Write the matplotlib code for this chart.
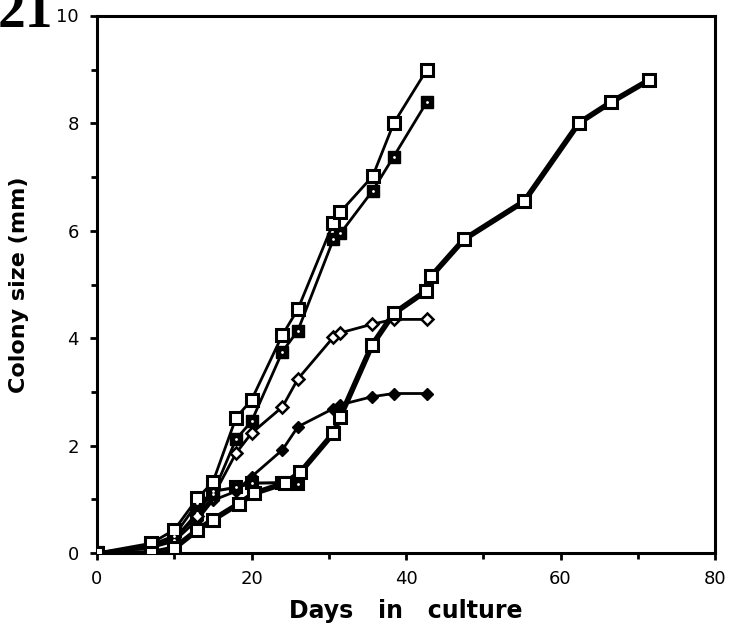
import matplotlib
matplotlib.use("Agg")
import matplotlib.pyplot as plt
from matplotlib.ticker import MultipleLocator

# Series A: open squares, thin line (fastest)
days_a = [0, 7, 10, 13, 15, 18, 20, 24, 26, 30.6, 31.5, 35.7, 38.4, 42.7]
size_a = [0, 0.18, 0.43, 1.02, 1.32, 2.52, 2.85, 4.06, 4.54, 6.15, 6.35, 7.02, 8.0, 9.0]

# Series B: filled squares, thin line
days_b = [0, 7, 10, 13, 15, 18, 20, 24, 26, 30.6, 31.5, 35.7, 38.4, 42.7]
size_b = [0, 0.15, 0.32, 0.93, 1.1, 2.12, 2.45, 3.75, 4.14, 5.84, 5.95, 6.75, 7.38, 8.4]

# Series C: open diamonds
days_c = [0, 7, 10, 13, 15, 18, 20, 24, 26, 30.6, 31.5, 35.6, 38.4, 42.7]
size_c = [0, 0.1, 0.3, 0.68, 1.05, 1.86, 2.23, 2.72, 3.24, 4.02, 4.1, 4.26, 4.35, 4.35]

# Series D: filled diamonds
days_d = [0, 7, 10, 13, 15, 18, 20, 24, 26, 30.6, 31.5, 35.6, 38.4, 42.7]
size_d = [0, 0.1, 0.22, 0.62, 0.98, 1.15, 1.42, 1.92, 2.35, 2.69, 2.76, 2.91, 2.97, 2.97]

# Series F: filled squares, short plateau
days_f = [0, 7, 10, 13, 15, 18, 20, 24, 26]
size_f = [0, 0.12, 0.25, 0.75, 1.15, 1.22, 1.3, 1.31, 1.28]

# Series E: open squares, thick line (long culture)
days_e = [0, 7, 10, 13, 15, 18.4, 20.3, 24.3, 26.3, 30.6, 31.5, 35.6, 38.4, 42.6, 43.3, 47.5, 55.3, 62.4, 66.6, 71.5]
size_e = [0, 0.0, 0.09, 0.43, 0.62, 0.92, 1.11, 1.3, 1.5, 2.23, 2.54, 3.87, 4.46, 4.88, 5.16, 5.84, 6.55, 8.01, 8.4, 8.81]

x_ticks = [0, 20, 40, 60, 80]
y_ticks = [0, 2, 4, 6, 8, 10]

fig = plt.figure(figsize=(7.34, 6.32), dpi=100)
ax = fig.add_axes([97/734, 1-553/632, (715-97)/734, (553-16)/632])

ax.plot(days_f, size_f, color="black", lw=2.2, marker="s", ms=8,
        mfc="black", mec="black", mew=1.5, zorder=3)
ax.plot(days_f, size_f, ls="none", marker=".", ms=2, color="white", zorder=4)
ax.plot(days_d, size_d, color="black", lw=2.0, marker="D", ms=6.5,
        mfc="black", mec="black", zorder=3)
ax.plot(days_c, size_c, color="black", lw=2.0, marker="D", ms=6.5,
        mfc="white", mec="black", mew=1.8, zorder=3)
ax.plot(days_b, size_b, color="black", lw=2.0, marker="s", ms=8,
        mfc="black", mec="black", zorder=3)
ax.plot(days_b, size_b, ls="none", marker=".", ms=2, color="white", zorder=4)
ax.plot(days_a, size_a, color="black", lw=2.0, marker="s", ms=8,
        mfc="white", mec="black", mew=2.2, zorder=3)
ax.plot(days_e, size_e, color="black", lw=4.0, marker="s", ms=8.5,
        mfc="white", mec="black", mew=2.2, zorder=5)

ax.set_xlim(0, 80)
ax.set_ylim(0, 10)
ax.set_xticks(x_ticks)
ax.set_yticks(y_ticks)
ax.xaxis.set_minor_locator(MultipleLocator(10))
ax.yaxis.set_minor_locator(MultipleLocator(1))
ax.set_yticklabels(["0", "2", "4", "6", "8", ""])
ax.tick_params(axis="both", which="major", direction="out", length=5, width=2,
               labelsize=13, top=False, right=False)
ax.tick_params(axis="both", which="minor", direction="out", length=4.5, width=2,
               top=False, right=False)
ax.tick_params(axis="y", pad=8)
ax.tick_params(axis="x", pad=7)
for s in ax.spines.values():
    s.set_linewidth(2.2)

ax.text(79/734, 1-17/632, "10", transform=fig.transFigure, ha="right", va="center", fontsize=13)

ax.set_xlabel("Days   in   culture", fontsize=17, fontweight="bold", labelpad=8)
ax.set_ylabel("Colony size (mm)", fontsize=16, fontweight="bold", labelpad=28)

fig.text(53/734, 1-27/632, "21", fontsize=40, fontweight="bold", family="Liberation Serif",
         ha="right", va="baseline")

fig.savefig("out.png", dpi=100)
